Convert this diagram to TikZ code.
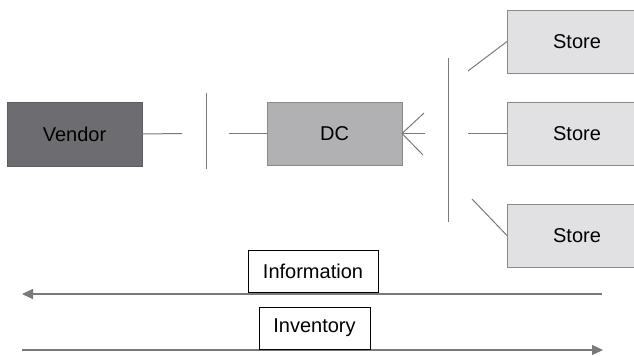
\documentclass[tikz,border=0pt]{standalone}
\usepackage{fontspec}
\setmainfont{Liberation Sans}
\usetikzlibrary{arrows.meta}
\definecolor{lineg}{HTML}{7A7A7A}
\definecolor{vendfill}{HTML}{6D6D71}
\definecolor{dcfill}{HTML}{B1B1B4}
\definecolor{storefill}{HTML}{E1E1E3}
\definecolor{boxline}{HTML}{8A8A8A}
\begin{document}
\begin{tikzpicture}[x=1pt,y=-1pt,
  base/.style={anchor=north west, inner sep=0pt, outer sep=0pt, line width=1pt,
    font=\fontsize{20}{24}\selectfont, text=black},
  vendorbox/.style={base, draw=vendfill!85!black, fill=vendfill, minimum width=135pt, minimum height=64pt},
  dcbox/.style={base, draw=boxline, fill=dcfill, minimum width=135pt, minimum height=63pt},
  storebox/.style={base, draw=boxline, fill=storefill, minimum width=140pt, minimum height=63pt},
  labelbox/.style={base, draw=black, fill=white, minimum height=42pt, line width=0.8pt},
  conn/.style={draw=lineg, line width=1pt},
  flow/.style={draw=lineg, line width=1.2pt, -{Triangle[length=11pt,width=10pt]}}
]
\useasboundingbox (0,0) rectangle (634,356);

% nodes
\node[vendorbox] (vendor) at (7,102) {Vendor};
\node[dcbox] (dc) at (267,102) {DC};
\node[storebox] (s1) at (507,10) {Store};
\node[storebox] (s2) at (507,102) {Store};
\node[storebox] (s3) at (507,204) {Store};

% vertical bars
\coordinate (b1t) at (206,93);
\coordinate (b1b) at (206,169);
\coordinate (b2t) at (448,58);
\coordinate (b2b) at (448,222);
\draw[conn] (b1t) -- (b1b);
\draw[conn] (b2t) -- (b2b);

% vendor to DC
\coordinate (v1) at (182,133.5);
\coordinate (v2) at (229,133.5);
\draw[conn] (vendor.east) -- (v1);
\draw[conn] (v2) -- (dc.west);

% DC fan
\coordinate (f1) at (424,113);
\coordinate (f2) at (425,133.5);
\coordinate (f3) at (423,155);
\draw[conn] (dc.east) -- (f1);
\draw[conn] (dc.east) -- (f2);
\draw[conn] (dc.east) -- (f3);

% stores
\coordinate (e1) at (468,71);
\coordinate (e2) at (468,133.5);
\coordinate (e3) at (472,199);
\draw[conn] (e1) -- (s1.west);
\draw[conn] (e2) -- (s2.west);
\draw[conn] (e3) -- (s3.west);

% flows
\coordinate (iR) at (602,294);
\coordinate (iL) at (22,294);
\coordinate (nL) at (22,350);
\coordinate (nR) at (603,350);
\draw[flow] (iR) -- (iL);
\draw[flow] (nL) -- (nR);
\node[labelbox, minimum width=130pt] (info) at (248,250) {Information};
\node[labelbox, minimum width=111pt] (inv) at (259,307) {Inventory};
\end{tikzpicture}
\end{document}
